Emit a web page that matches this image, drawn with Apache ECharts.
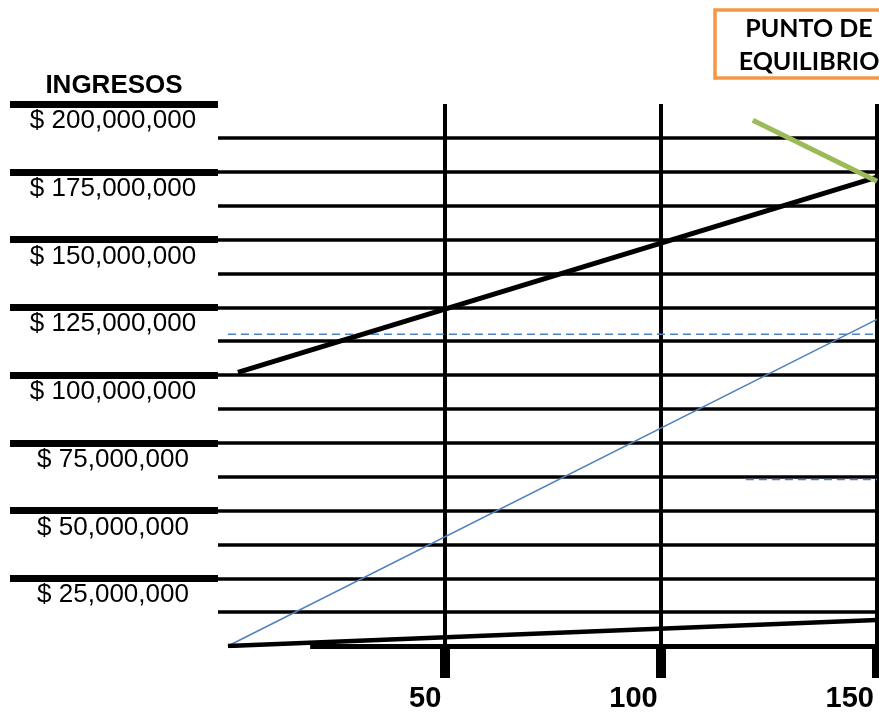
<!DOCTYPE html>
<html>
<head>
<meta charset="utf-8">
<script src="https://cdn.jsdelivr.net/npm/echarts@6/dist/echarts.min.js"></script>
<style>
  html, body { margin: 0; padding: 0; background: #fff; }
  #chart { width: 879px; height: 713px; }
</style>
</head>
<body>
<div id="chart"></div>
<script>
// ticks y etiquetas
const yTicks = [25e6, 50e6, 75e6, 100e6, 125e6, 150e6, 175e6, 200e6];
const yLabels = ["$ 25,000,000", "$ 50,000,000", "$ 75,000,000", "$ 100,000,000",
  "$ 125,000,000", "$ 150,000,000", "$ 175,000,000", "$ 200,000,000"];
const gridValues = [12.5e6, 25e6, 37.5e6, 50e6, 62.5e6, 75e6, 87.5e6, 100e6,
  112.5e6, 125e6, 137.5e6, 150e6, 162.5e6, 175e6, 187.5e6];
const xTicks = [50, 100, 150];
const axisStart = 19; // donde empieza la linea gruesa del eje x

// series
const lineaNegra = [[2.3, 101e6], [150, 173e6]];
const lineaVerde = [[121.3, 194e6], [150, 171.5e6]];
const lineaAzul = [[0, 0], [150, 120.5e6]];
const lineaBaja = [[0, 0], [150, 9.6e6]];
const punteada1 = [[0, 115e6], [150, 115e6]];
const punteada2 = [[119.7, 61.4e6], [150, 61.4e6]];

const chart = echarts.init(document.getElementById("chart"));

const lineSeries = (data, color, width, type) => ({
  type: "line",
  data: data,
  symbol: "none",
  silent: true,
  z: 10,
  lineStyle: { color: color, width: width, type: type || "solid" }
});

const option = {
  animation: false,
  backgroundColor: "#fff",
  grid: { left: 218, right: 2, top: 104, bottom: 65 },
  xAxis: {
    type: "value",
    min: -2.3,
    max: 150,
    splitLine: { show: false },
    axisLine: { show: false },
    axisTick: {
      show: true,
      customValues: xTicks,
      length: 32,
      lineStyle: { color: "#000", width: 10 }
    },
    axisLabel: {
      customValues: xTicks,
      formatter: v => String(v),
      align: "right",
      margin: 38,
      padding: [0, 3, 0, 0],
      fontSize: 29,
      fontWeight: "bold",
      fontFamily: "Liberation Sans, Arial",
      color: "#000"
    }
  },
  yAxis: {
    type: "value",
    min: 0,
    max: 200e6,
    splitLine: { show: false },
    axisLine: { show: false, onZero: false },
    axisTick: {
      show: true,
      customValues: yTicks,
      length: 208,
      lineStyle: { color: "#000", width: 7 }
    },
    axisLabel: {
      customValues: yTicks,
      formatter: v => yLabels[yTicks.indexOf(v)],
      align: "center",
      verticalAlign: "top",
      margin: 105,
      padding: [4, 0, 0, 0],
      lineHeight: 26,
      fontSize: 26,
      fontFamily: "Liberation Sans, Arial",
      color: "#000"
    }
  },
  graphic: [
    {
      type: "text",
      x: 114,
      y: 73,
      style: {
        text: "INGRESOS",
        textAlign: "center",
        font: 'bold 26px "Liberation Sans", Arial',
        fill: "#000"
      }
    },
    {
      type: "rect",
      shape: { x: 715, y: 10, width: 200, height: 68 },
      style: { fill: "#fff", stroke: "#F79646", lineWidth: 3.5 }
    },
    {
      type: "text",
      x: 809,
      y: 12,
      style: {
        text: "PUNTO DE\nEQUILIBRIO",
        textAlign: "center",
        font: "bold 25px Lato",
        lineHeight: 33,
        fill: "#000"
      }
    }
  ],
  series: [
    {
      type: "line",
      data: [],
      z: 1,
      silent: true,
      markLine: {
        z: 1,
        silent: true,
        symbol: ["none", "none"],
        label: { show: false },
        data: gridValues.map(v => ({ yAxis: v, lineStyle: { color: "#000", width: 3.5, type: "solid" } }))
          .concat(xTicks.map(v => ({ xAxis: v, lineStyle: { color: "#000", width: 4, type: "solid" } })))
          .concat([[{ coord: [axisStart, 0], lineStyle: { color: "#000", width: 5, type: "solid" } }, { coord: [150, 0] }]])
      }
    },
    lineSeries(punteada1, "#4F81BD", 1.5, [8, 5]),
    lineSeries(punteada2, "#4F81BD", 1.5, [8, 5]),
    lineSeries(lineaAzul, "#4F81BD", 1.5),
    lineSeries(lineaBaja, "#000", 4.5),
    lineSeries(lineaNegra, "#000", 5),
    lineSeries(lineaVerde, "#9BBB59", 5)
  ]
};

chart.setOption(option);
window.addEventListener("resize", () => chart.resize(), false);
</script>
</body>
</html>
